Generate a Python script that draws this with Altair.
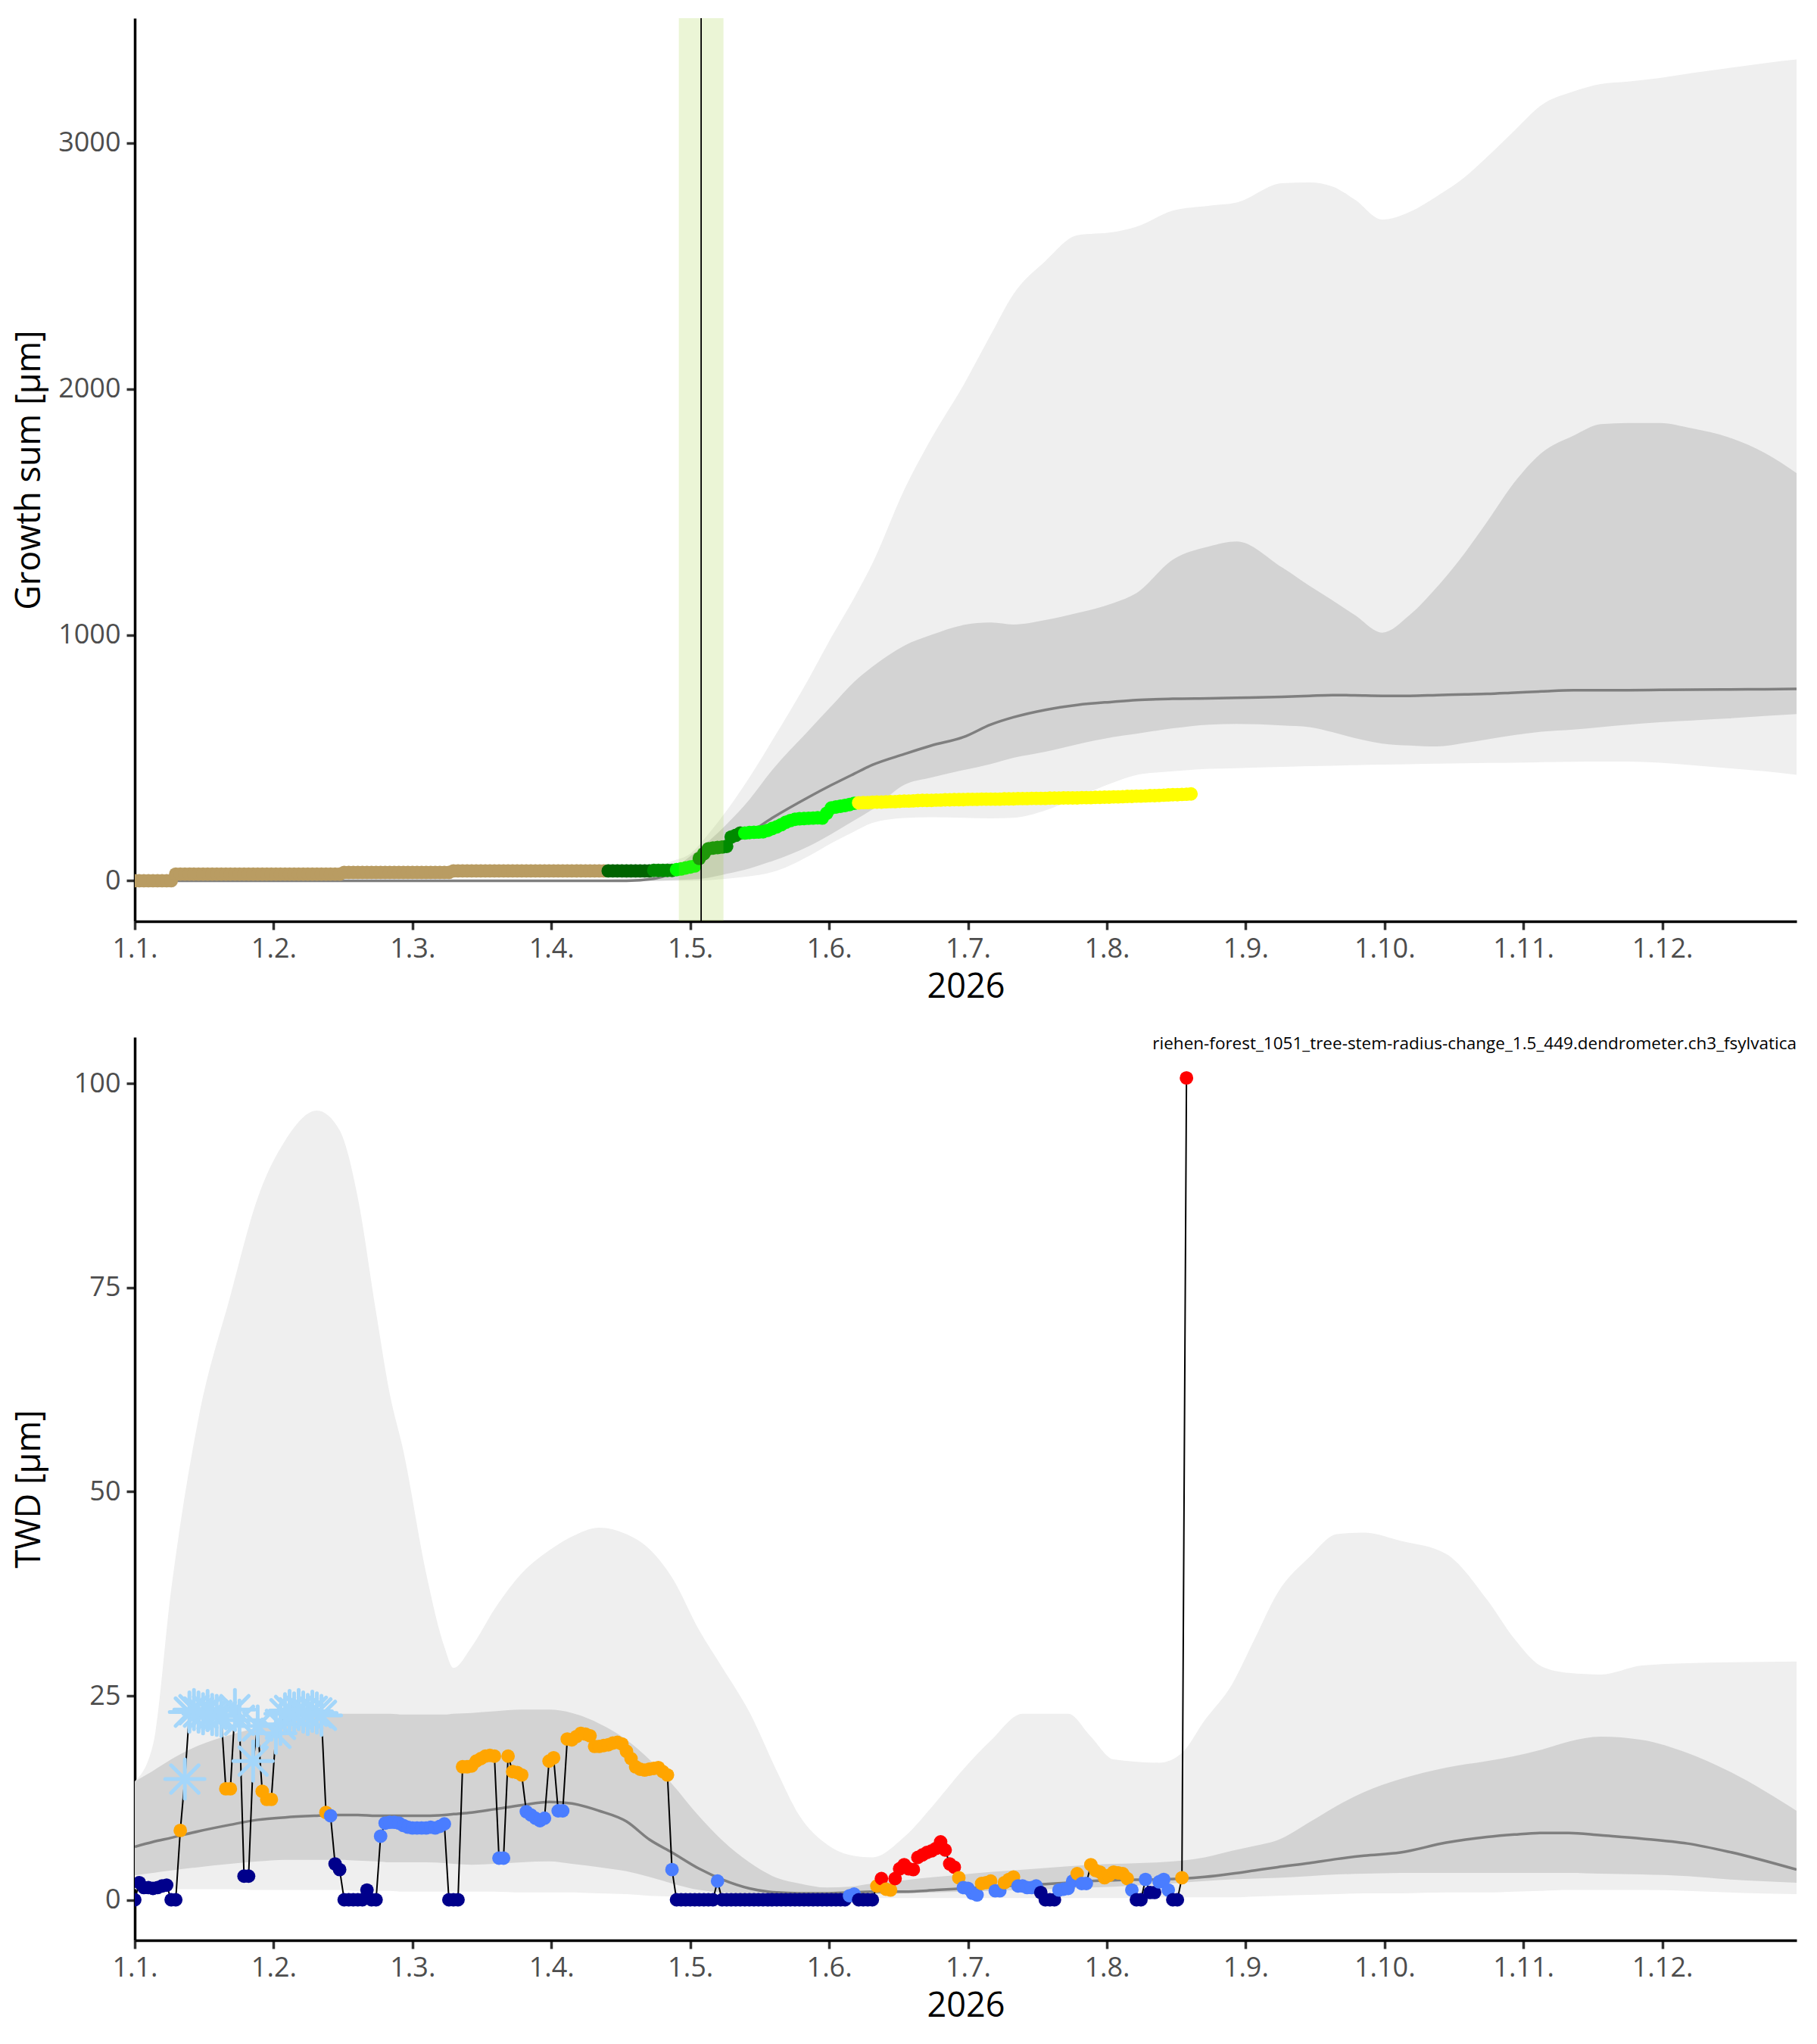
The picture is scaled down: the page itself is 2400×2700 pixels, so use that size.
import altair as alt
import pandas as pd

# x is day of year (0 = 1 January); the month breaks sit every 30.5 days
month_ticks = [0, 30.5, 61, 91.5, 122, 152.5, 183, 213.5, 244, 274.5, 305, 335.5]
month_labels = ["1.1.", "1.2.", "1.3.", "1.4.", "1.5.", "1.6.",
                "1.7.", "1.8.", "1.9.", "1.10.", "1.11.", "1.12."]

# GROWTH PANEL: reference bands (quantiles of other years) + median
top_grid = [0, 100, 108, 114, 118, 122, 126, 130, 135, 140,
            148, 153, 158, 162, 169, 175, 182, 188, 193, 200,
            207, 215, 220, 228, 236, 242, 252, 258, 263, 268,
            274, 280, 286, 292, 297, 303, 309, 316, 322, 328,
            335, 342, 350, 358, 365]
top_outer_hi = [0, 0, 15, 55, 80, 110, 190, 285, 420, 570,
                820, 990, 1150, 1290, 1590, 1800, 2015, 2220, 2386, 2520,
                2625, 2638, 2660, 2725, 2745, 2758, 2837, 2840, 2824, 2770,
                2689, 2720, 2784, 2860, 2943, 3050, 3155, 3210, 3240, 3250,
                3265, 3285, 3305, 3325, 3340]
top_outer_lo = [0, 0, 0, 0, 0, 0, 2, 8, 18, 35,
                100, 153, 200, 235, 255, 258, 256, 254, 256, 286,
                340, 400, 430, 445, 455, 458, 463, 466, 468, 470,
                472, 474, 476, 478, 479, 480, 482, 484, 485, 485,
                480, 470, 458, 445, 431]
top_inner_hi = [0, 0, 0, 12, 45, 100, 160, 230, 330, 450,
                611, 710, 809, 870, 956, 1000, 1040, 1050, 1042, 1060,
                1089, 1130, 1170, 1306, 1360, 1380, 1274, 1200, 1141, 1080,
                1009, 1080, 1194, 1330, 1459, 1620, 1740, 1810, 1857, 1862,
                1862, 1840, 1804, 1740, 1658]
top_inner_lo = [0, 0, 0, 0, 2, 5, 12, 28, 50, 80,
                140, 190, 245, 290, 390, 420, 450, 475, 500, 525,
                555, 585, 598, 620, 635, 638, 632, 625, 605, 580,
                558, 550, 546, 560, 575, 592, 606, 615, 625, 635,
                645, 652, 660, 670, 678]
top_median = [0, 0, 0, 8, 30, 65, 110, 150, 195, 255,
              340, 389, 435, 471, 515, 550, 584, 635, 665, 695,
              715, 728, 735, 740, 742, 744, 748, 752, 755, 754,
              752, 752, 755, 758, 760, 765, 770, 775, 775, 775,
              776, 777, 778, 779, 780]

# daily growth sum of this year, day 0..232
growth_sum = [
    0, 0, 0, 0, 0, 0, 0, 0, 0, 27,
    27, 27, 27, 27, 27, 27, 27, 27, 27, 27,
    27, 27, 27, 27, 27, 27, 27, 27, 27, 27,
    27, 27, 27, 27, 27, 27, 27, 27, 27, 27,
    27, 27, 27, 27, 27, 27, 34, 34, 34, 34,
    34, 34, 34, 34, 34, 34, 34, 34, 34, 34,
    34, 34, 34, 34, 34, 34, 34, 34, 34, 34,
    40, 40, 40, 40, 40, 40, 40, 40, 40, 40,
    40, 40, 40, 40, 40, 40, 40, 40, 40, 40,
    40, 40, 40, 40, 40, 40, 40, 40, 40, 40,
    40, 40, 40, 40, 40, 40, 40, 40, 40, 40,
    40, 40, 40, 40, 42, 42, 42, 42, 42, 45,
    48, 52, 56, 60, 91, 110, 130, 133, 135, 137,
    140, 178, 185, 194, 194, 196, 197, 198, 199, 205,
    212, 219, 228, 238, 245, 250, 252, 253, 254, 255,
    256, 255, 275, 296, 300, 303, 306, 310, 315, 317,
    318, 318, 319, 320, 320, 321, 322, 322, 323, 324,
    324, 325, 326, 327, 327, 327, 328, 328, 329, 329,
    330, 330, 330, 331, 331, 331, 332, 332, 332, 332,
    332, 333, 333, 333, 334, 334, 334, 335, 335, 335,
    335, 336, 336, 336, 337, 337, 337, 337, 338, 338,
    338, 339, 339, 340, 340, 341, 341, 342, 343, 343,
    344, 344, 345, 346, 346, 347, 348, 349, 350, 350,
    351, 352, 353,
]
# growth phase runs (phase, number of days)
growth_phase_runs = [("dormant", 104), ("onset", 10), ("early", 5), ("main", 5),
                     ("early", 10), ("main", 25), ("late", 74)]
phase_names = ["dormant", "onset", "early", "main", "late"]
phase_colors = ["#B99C62", "#006400", "#008B00", "#00FF00", "#FFFF00"]

# growth onset window and estimate
onset_start, onset_end, onset_day = 119.5, 129.3, 124.4

# TWD PANEL
bot_grid = [0, 4, 8, 14, 21, 27, 33, 40, 45, 49,
            53, 56, 59, 64, 68, 70, 74, 79, 85, 91,
            96, 102, 108, 113, 118, 124, 129, 135, 141, 146,
            152, 157, 162, 169, 176, 182, 188, 195, 205, 210,
            215, 225, 230, 235, 241, 246, 251, 258, 264, 270,
            278, 288, 297, 303, 309, 315, 322, 331, 341, 350,
            365]
bot_outer_hi = [14.5, 19, 38, 59, 74, 86, 93, 96.7, 94.3, 86,
                72, 62, 55, 40, 31, 28.4, 31, 35.6, 40, 42.8,
                44.5, 45.6, 44.8, 43, 39.5, 33, 28.5, 23, 15.8, 10.3,
                6.8, 5.5, 5.2, 7.7, 12, 16, 19.5, 22.8, 22.8, 20,
                17.2, 16.8, 18, 22, 26.4, 32, 37.6, 42, 44.8, 45,
                44, 42.4, 36.8, 32, 28.6, 27.8, 27.6, 28.7, 29, 29.1,
                29.2]
bot_outer_lo = [1.3, 1.3, 1.3, 1.3, 1.3, 1.2, 1.2, 1.2, 1.2, 1.1,
                1.1, 1.1, 1.0, 1.0, 1.0, 1.0, 1.0, 1.0, 0.9, 0.9,
                0.9, 0.8, 0.7, 0.5, 0.4, 0.3, 0.3, 0.3, 0.2, 0.2,
                0.2, 0.2, 0.2, 0.2, 0.2, 0.2, 0.2, 0.2, 0.2, 0.2,
                0.2, 0.3, 0.3, 0.3, 0.3, 0.4, 0.5, 0.6, 0.7, 0.8,
                0.8, 0.9, 0.9, 1.0, 1.1, 1.2, 1.2, 1.2, 1.1, 0.9,
                0.7]
bot_inner_hi = [14.5, 15.8, 17.2, 18.9, 20.2, 21.1, 21.9, 22.4, 22.8, 22.8,
                22.8, 22.8, 22.7, 22.7, 22.7, 22.8, 22.9, 23.1, 23.3, 23.3,
                22.9, 21.6, 19.6, 17.2, 14.2, 10.2, 7.3, 4.6, 2.7, 2.0,
                1.5, 1.6, 2.0, 2.4, 2.8, 3.1, 3.4, 3.7, 4.1, 4.3,
                4.4, 4.6, 4.8, 5.2, 6.0, 6.6, 7.3, 9.5, 11.5, 13.2,
                14.8, 16.2, 17.0, 17.6, 18.4, 19.4, 20.0, 19.6, 18.0, 15.8,
                10.9]
bot_inner_lo = [3.0, 3.3, 3.6, 4.0, 4.4, 4.7, 4.9, 4.9, 4.9, 4.8,
                4.7, 4.6, 4.6, 4.6, 4.5, 4.4, 4.3, 4.4, 4.6, 4.7,
                4.4, 4.0, 3.5, 2.8, 2.0, 1.2, 0.9, 0.7, 0.6, 0.6,
                0.6, 0.6, 0.7, 0.8, 0.9, 1.0, 1.1, 1.2, 1.4, 1.5,
                1.6, 1.9, 2.1, 2.3, 2.5, 2.6, 2.7, 2.9, 3.1, 3.2,
                3.3, 3.3, 3.3, 3.3, 3.3, 3.3, 3.2, 3.1, 2.9, 2.5,
                2.1]
bot_median = [6.5, 7.1, 7.6, 8.4, 9.2, 9.8, 10.1, 10.3, 10.4, 10.4,
              10.3, 10.3, 10.3, 10.3, 10.4, 10.5, 10.7, 11.1, 11.6, 12.0,
              11.8, 10.9, 9.6, 7.4, 5.8, 3.8, 2.5, 1.4, 0.9, 0.8,
              0.8, 0.9, 1.0, 1.0, 1.2, 1.4, 1.6, 1.8, 2.1, 2.3,
              2.4, 2.5, 2.6, 2.8, 3.2, 3.6, 4.0, 4.5, 5.0, 5.4,
              5.8, 7.0, 7.7, 8.0, 8.2, 8.2, 7.9, 7.5, 6.9, 5.9,
              3.7]

# daily TWD of this year, day 0..231
twd = [
    0, 2.1, 1.5, 1.5, 1.4, 1.5, 1.7, 1.8, 0, 0,
    8.5, 14.8, 23.0, 23.3, 23.0, 22.8, 23.2, 22.7, 22.6, 22.5,
    13.6, 13.6, 23.3, 22.0, 2.9, 2.9, 17.0, 21.3, 13.3, 12.3,
    12.3, 20.4, 21.5, 22.8, 23.2, 22.9, 23.3, 23.0, 22.7, 23.1,
    22.9, 22.6, 10.7, 10.3, 4.4, 3.7, 0, 0, 0, 0,
    0, 1.2, 0, 0, 7.8, 9.4, 9.5, 9.5, 9.4, 9.1,
    8.9, 8.8, 8.8, 8.8, 8.8, 8.9, 8.8, 9.0, 9.3, 0,
    0, 0, 16.3, 16.3, 16.4, 17.0, 17.3, 17.6, 17.7, 17.6,
    5.1, 5.1, 17.6, 15.7, 15.6, 15.3, 10.8, 10.4, 10.0, 9.7,
    10.0, 17.0, 17.4, 10.9, 10.9, 19.7, 19.6, 20.0, 20.4, 20.3,
    20.1, 18.8, 18.8, 18.9, 19.0, 19.2, 19.3, 19.1, 18.2, 17.3,
    16.3, 16.0, 15.9, 16.0, 16.1, 16.2, 15.7, 15.3, 3.7, 0,
    0, 0, 0, 0, 0, 0, 0, 0, 2.3, 0,
    0, 0, 0, 0, 0, 0, 0, 0, 0, 0,
    0, 0, 0, 0, 0, 0, 0, 0, 0, 0,
    0, 0, 0, 0, 0, 0, 0, 0.5, 0.7, 0,
    0, 0, 0, 1.7, 2.6, 1.3, 1.2, 2.6, 3.8, 4.3,
    3.8, 3.7, 5.2, 5.5, 5.8, 6.0, 6.3, 7.1, 6.1, 4.4,
    4.0, 2.7, 1.5, 1.4, 0.8, 0.6, 2.0, 2.1, 2.3, 1.1,
    1.1, 2.1, 2.5, 2.8, 1.7, 1.7, 1.5, 1.5, 1.7, 0.9,
    0, 0, 0, 1.2, 1.3, 1.4, 2.3, 3.2, 2.0, 2.0,
    4.3, 3.6, 3.4, 2.7, 3.0, 3.4, 3.3, 3.2, 2.6, 1.2,
    0, 0, 2.5, 0.9, 0.9, 2.2, 2.5, 1.2, 0, 0,
    2.7, 100.7,
]
# one letter per day: n none, b low, o medium, r high, f frost
twd_class = ("nnnnnnnnnn" "offfffffff" "ooffnnffoo" "offfffffff" "ffobnnnnnn"
             "nnnnbbbbbb" "bbbbbbbbbn" "nnoooooooo" "bboooobbbb" "boobbooooo"
             "oooooooooo" "oooooooobn" "nnnnnnnnbn" "nnnnnnnnnn" "nnnnnnnnnn"
             "nnnnnnnbbn" "nnnoroorrr" "rrrrrrrrrr" "robbbbooob" "booobbbbbn"
             "nnnbbbbobb" "ooooooooob" "nnbnnbbbnn" "or")
class_names = ["n", "b", "o", "r"]
class_colors = ["#00008B", "#4A7DFF", "#FFA500", "#FF0000"]
frost_color = "#A4D6FA"

sensor_label = "riehen-forest_1051_tree-stem-radius-change_1.5_449.dendrometer.ch3_fsylvatica"

# BUILD TABLES
# ------------
top_band = pd.DataFrame({"day": top_grid, "outer_lo": top_outer_lo, "outer_hi": top_outer_hi,
                         "inner_lo": top_inner_lo, "inner_hi": top_inner_hi, "median": top_median})
bot_band = pd.DataFrame({"day": bot_grid, "outer_lo": bot_outer_lo, "outer_hi": bot_outer_hi,
                         "inner_lo": bot_inner_lo, "inner_hi": bot_inner_hi, "median": bot_median})

phases = []
for name, n in growth_phase_runs:
    phases += [name] * n
growth = pd.DataFrame({"day": range(len(growth_sum)), "value": growth_sum, "phase": phases})

twd_df = pd.DataFrame({"day": range(len(twd)), "value": twd, "cls": list(twd_class)})
onset = pd.DataFrame({"start": [onset_start], "end": [onset_end], "day": [onset_day]})

# CHART
# -----
W, H = 2195, 1193
FONT = "Open Sans"
PT = 320  # point area
label_expr = "[" + ",".join(f"'{m}'" for m in month_labels) + "][round(datum.value / 30.5)]"

x_scale = alt.Scale(domain=[0, 365], nice=False, zero=False)
x_axis = alt.Axis(values=month_ticks, labelExpr=label_expr, title="2026", titlePadding=10)


def panel(band, y_domain, y_ticks, y_title):
    y_scale = alt.Scale(domain=y_domain, nice=False, zero=False)
    # same extent in both panels so the two y titles line up
    y_axis = alt.Axis(values=y_ticks, format="d", title=y_title, titlePadding=16,
                      minExtent=101, maxExtent=101)
    X = alt.X("day:Q", scale=x_scale, axis=x_axis)
    base = alt.Chart(band)
    outer = base.mark_area(color="#EFEFEF", interpolate="monotone", clip=True).encode(
        x=X, y=alt.Y("outer_hi:Q", scale=y_scale, axis=y_axis), y2="outer_lo:Q")
    inner = base.mark_area(color="#D3D3D3", interpolate="monotone", clip=True).encode(
        x=X, y=alt.Y("inner_hi:Q", scale=y_scale, axis=y_axis), y2="inner_lo:Q")
    median = base.mark_line(color="#7F7F7F", strokeWidth=3.5, interpolate="monotone",
                            clip=True).encode(
        x=X, y=alt.Y("median:Q", scale=y_scale, axis=y_axis))
    return [outer, inner, median], X, y_scale, y_axis


# growth panel
layers, X, ys, ya = panel(top_band, [-165, 3508], [0, 1000, 2000, 3000], "Growth sum [µm]")
growth_pts = alt.Chart(growth).mark_circle(size=PT, opacity=1, clip=True).encode(
    x=X, y=alt.Y("value:Q", scale=ys, axis=ya),
    color=alt.Color("phase:N", scale=alt.Scale(domain=phase_names, range=phase_colors), legend=None))
onset_rect = alt.Chart(onset).mark_rect(color="#9ACD32", opacity=0.2).encode(
    x=alt.X("start:Q", scale=x_scale, axis=x_axis), x2="end:Q")
onset_rule = alt.Chart(onset).mark_rule(color="black", strokeWidth=1.8).encode(
    x=alt.X("day:Q", scale=x_scale, axis=x_axis))
top = alt.layer(*layers, growth_pts, onset_rect, onset_rule).properties(width=W, height=H)

# TWD panel
layers, X, ys, ya = panel(bot_band, [-4.96, 105.7], [0, 25, 50, 75, 100], "TWD [µm]")
twd_line = alt.Chart(twd_df).mark_line(color="black", strokeWidth=2, clip=True).encode(
    x=X, y=alt.Y("value:Q", scale=ys, axis=ya))
twd_pts = alt.Chart(twd_df).transform_filter("datum.cls != 'f'").mark_circle(
    size=PT, opacity=1, clip=True).encode(
    x=X, y=alt.Y("value:Q", scale=ys, axis=ya),
    color=alt.Color("cls:N", scale=alt.Scale(domain=class_names, range=class_colors), legend=None))
asterisk = "M-1,0L1,0M0,-1L0,1M-0.7,-0.7L0.7,0.7M-0.7,0.7L0.7,-0.7"
frost_pts = alt.Chart(twd_df).transform_filter("datum.cls == 'f'").mark_point(
    shape=asterisk, size=2700, filled=False, strokeWidth=5, strokeCap="round",
    color=frost_color, opacity=1, clip=True).encode(
    x=X, y=alt.Y("value:Q", scale=ys, axis=ya))
label = alt.Chart(pd.DataFrame({"label": [sensor_label]})).mark_text(
    align="right", baseline="middle", font=FONT, fontSize=22.5, color="black").encode(
    x=alt.value(W), y=alt.value(9), text="label:N")
bottom = alt.layer(*layers, twd_line, twd_pts, frost_pts, label).properties(width=W, height=H)

chart = alt.vconcat(top, bottom, spacing=42).resolve_scale(color="independent").properties(
    padding={"left": 8, "top": 15, "right": 16, "bottom": 8}
).configure_view(stroke=None).configure_axis(
    grid=False, domainColor="black", domainWidth=3.5,
    tickColor="#333333", tickWidth=3.5, tickSize=11,
    labelFont=FONT, labelFontSize=36, labelColor="#4D4D4D", labelPadding=8,
    labelFlush=False, labelOverlap=False,
    titleFont=FONT, titleFontSize=45, titleColor="black", titleFontWeight="normal",
)

chart.save("out.html", embed_options={"renderer": "svg", "actions": False})
